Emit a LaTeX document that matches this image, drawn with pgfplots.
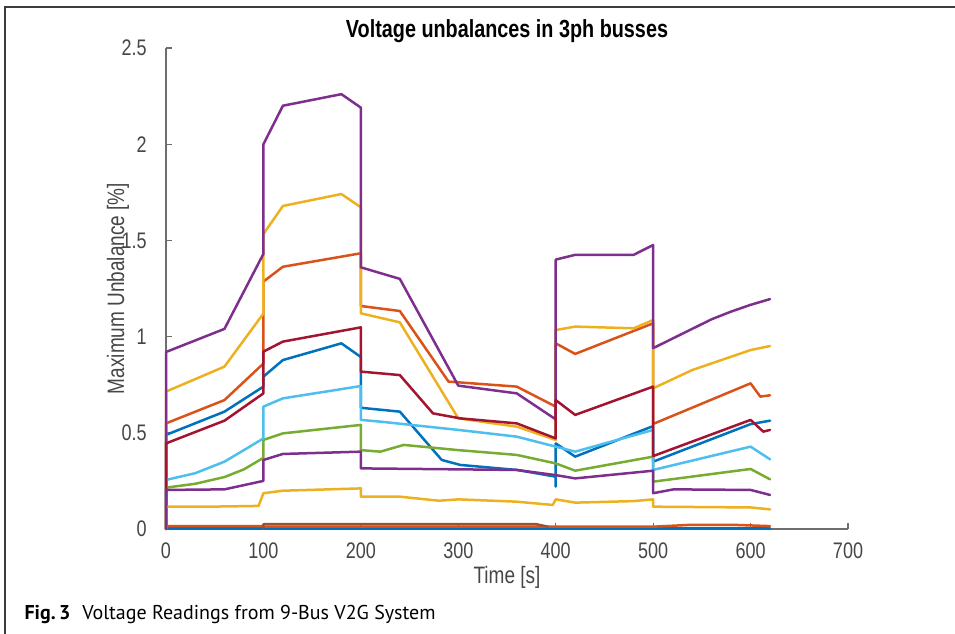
\documentclass[border=0pt]{standalone}
\usepackage{pgfplots}
\pgfplotsset{compat=1.18}
\usepackage{fontspec}
\setmainfont{Liberation Sans}
\newfontfamily\chartfont[FakeStretch=0.8]{Liberation Sans}
\newfontfamily\capfont{PT Sans}
\definecolor{mblue}{RGB}{0,114,189}
\definecolor{morange}{RGB}{217,83,25}
\definecolor{myellow}{RGB}{237,177,32}
\definecolor{mpurple}{RGB}{126,47,142}
\definecolor{mgreen}{RGB}{119,172,48}
\definecolor{mlblue}{RGB}{77,190,238}
\definecolor{mdred}{RGB}{162,20,47}
\definecolor{mbrown}{RGB}{160,80,50}
\definecolor{axgray}{RGB}{110,110,110}
\definecolor{txtgray}{RGB}{70,70,70}
\definecolor{framegray}{RGB}{60,60,60}
\begin{document}
\begin{tikzpicture}[x=1pt,y=1pt]
\path[use as bounding box] (0,0) rectangle (382,253.6);
\draw[line width=0.8pt, framegray] (2,0) -- (2,250.8) -- (382,250.8);
\begin{axis}[
  at={(66.4pt,42pt)}, anchor=south west,
  scale only axis, width=272.8pt, height=192.4pt,
  xmin=0, xmax=700, ymin=0, ymax=2.5,
  axis lines*=left,
  axis line style={draw=axgray, line width=0.5pt},
  tick align=inside,
  major tick length=2.4pt,
  every tick/.style={draw=axgray, line width=0.5pt},
  xtick={0,100,...,700},
  ytick={0,0.5,1,1.5,2,2.5},
  /pgf/number format/assume math mode=true,
  ticklabel style={font=\chartfont\fontsize{9}{10}\selectfont, text=txtgray},
  xticklabel style={yshift=-1.8pt},
  yticklabel style={xshift=-4.2pt},
  xlabel={Time [s]},
  ylabel={Maximum Unbalance [\%]},
  label style={font=\chartfont\fontsize{9.5}{11}\selectfont, text=txtgray},
  x label style={at={(axis description cs:0.5,0)}, anchor=center, yshift=-19.2pt},
  y label style={at={(axis description cs:0,0.5)}, anchor=center, yshift=19.2pt},
  title={Voltage unbalances in 3ph busses},
  title style={at={(axis description cs:0.5,1)}, anchor=center, yshift=0.6pt, font=\chartfont\bfseries\fontsize{9.9}{11}\selectfont},
  clip=false,
  every axis plot/.append style={line width=1.0pt, line join=round, line cap=round},
]
% 1 blue
\addplot[mblue] coordinates {(0,0) (0,0.489) (60,0.61) (100,0.74) (100,0.792) (120,0.878) (180,0.965) (200,0.894) (200,0.63) (240,0.61) (283,0.359) (302,0.333) (360,0.307) (400,0.272) (400,0.22) (400,0.445) (420,0.376) (500,0.535) (500,0.35) (600,0.545) (620,0.563)};
% 2 orange
\addplot[morange] coordinates {(0,0) (0,0.549) (60,0.67) (100,0.86) (100,1.286) (120,1.363) (200,1.433) (200,1.159) (240,1.133) (290,0.766) (360,0.74) (400,0.636) (400,0.965) (420,0.91) (500,1.069) (500,0.546) (600,0.757) (610,0.688) (620,0.695)};
% 3 yellow
\addplot[myellow] coordinates {(0,0) (0,0.714) (60,0.844) (100,1.12) (100,1.533) (120,1.679) (180,1.741) (200,1.672) (200,1.121) (240,1.074) (300,0.575) (360,0.532) (400,0.463) (400,1.034) (420,1.052) (480,1.043) (500,1.086) (500,0.731) (540,0.826) (600,0.93) (620,0.951)};
% 4 purple
\addplot[mpurple] coordinates {(0,0) (0,0.92) (60,1.04) (100,1.43) (100,2.0) (120,2.2) (140,2.22) (160,2.24) (180,2.26) (200,2.19) (200,1.36) (240,1.30) (300,0.745) (360,0.705) (400,0.57) (400,1.40) (420,1.425) (480,1.425) (500,1.476) (500,0.94) (520,0.99) (540,1.04) (560,1.09) (580,1.13) (600,1.165) (620,1.195)};
% 5 green
\addplot[mgreen] coordinates {(0,0) (0,0.215) (30,0.235) (60,0.27) (80,0.31) (100,0.37) (100,0.463) (120,0.497) (200,0.541) (200,0.41) (220,0.402) (244,0.437) (300,0.41) (360,0.385) (400,0.341) (420,0.303) (500,0.376) (500,0.246) (600,0.312) (620,0.258)};
% 6 light blue
\addplot[mlblue] coordinates {(0,0) (0,0.255) (30,0.29) (60,0.35) (80,0.41) (100,0.471) (100,0.636) (120,0.679) (200,0.743) (200,0.567) (220,0.558) (300,0.515) (360,0.48) (400,0.428) (420,0.402) (500,0.515) (500,0.307) (600,0.428) (620,0.362)};
% 7 dark red
\addplot[mdred] coordinates {(0,0) (0,0.445) (60,0.563) (100,0.705) (100,0.922) (120,0.974) (200,1.048) (200,0.818) (240,0.80) (274,0.601) (302,0.575) (360,0.549) (400,0.471) (400,0.67) (420,0.593) (500,0.74) (500,0.379) (600,0.567) (613,0.506) (620,0.515)};
% 8 blue
\addplot[mblue] coordinates {(0,0.003) (620,0.003)};
% 9 orange
\addplot[morange] coordinates {(0,0) (0,0.015) (100,0.015) (100,0.012) (380,0.012) (500,0.012) (540,0.022) (580,0.022) (620,0.015)};
% 10 yellow
\addplot[myellow] coordinates {(0,0) (0,0.116) (60,0.117) (95,0.12) (100,0.186) (120,0.199) (200,0.211) (200,0.168) (240,0.168) (280,0.147) (300,0.154) (360,0.142) (397,0.125) (400,0.154) (420,0.137) (480,0.145) (500,0.154) (500,0.116) (600,0.112) (620,0.102)};
% 11 purple
\addplot[mpurple] coordinates {(0,0) (0,0.203) (60,0.206) (100,0.25) (100,0.359) (120,0.39) (200,0.402) (200,0.315) (300,0.31) (360,0.307) (400,0.28) (420,0.263) (500,0.303) (500,0.186) (521,0.206) (600,0.203) (620,0.177)};
% 12 dark red (near zero)
\addplot[mbrown] coordinates {(100,0.005) (100,0.025) (380,0.025) (392,0.012)};
\end{axis}
\node[anchor=base west, inner sep=0pt, font=\capfont\fontsize{8}{9}\selectfont] at (9.6,5.6) {\textbf{Fig.\,3}\hspace{0.6em}Voltage Readings from 9-Bus V2G System};
\end{tikzpicture}
\end{document}
